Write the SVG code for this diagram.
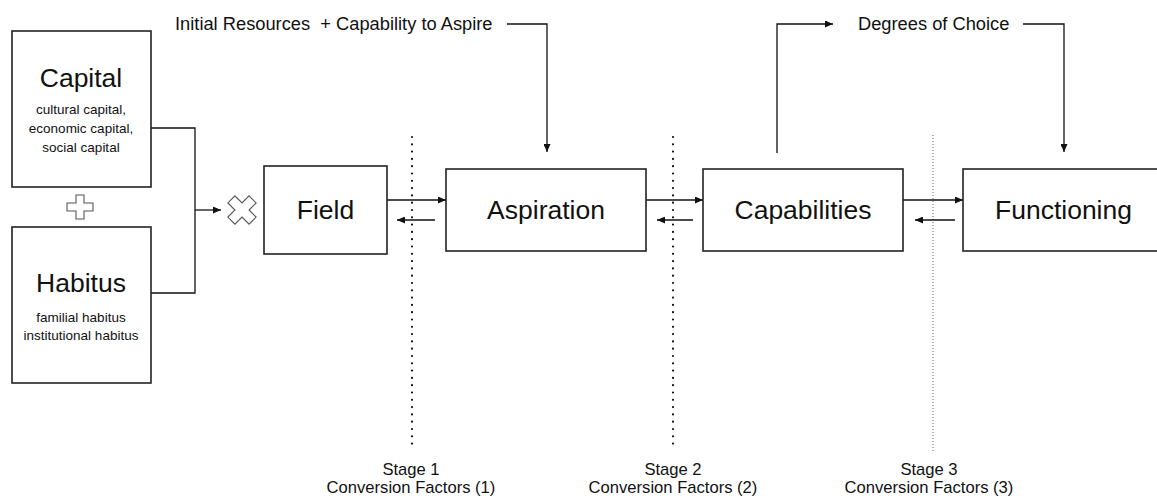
<svg xmlns="http://www.w3.org/2000/svg" width="1157" height="503" viewBox="0 0 1157 503">
  <defs>
    <style>
      text { font-family: "Liberation Sans", Arial, Helvetica, sans-serif; fill: #111; }
      .box { fill: #fff; stroke: #222; stroke-width: 1.6; }
      .title { font-size: 26.5px; text-anchor: middle; }
      .sub { font-size: 13.5px; text-anchor: middle; }
      .label { font-size: 16.6px; text-anchor: middle; }
      .toplabel { font-size: 18.3px; }
      .conn { fill: none; stroke: #111; stroke-width: 1.3; }
      .arrow { fill: none; stroke: #111; stroke-width: 1.3; marker-end: url(#head); }
      .dots { fill: none; stroke: #111; stroke-width: 2.2; stroke-linecap: round; stroke-dasharray: 0 7.3; }
      .fine { fill: none; stroke: #777; stroke-width: 1.2; stroke-dasharray: 1 2; }
      .icon { fill: #fff; stroke: #555; stroke-width: 1.1; }
    </style>
    <marker id="head" markerWidth="8" markerHeight="7" refX="8" refY="3.5" orient="auto" markerUnits="userSpaceOnUse">
      <path d="M0,0 L8,3.5 L0,7 Z" fill="#111"/>
    </marker>
  </defs>

  <!-- stage dividers -->
  <g id="dividers">
    <line class="dots" x1="412" y1="137" x2="412" y2="447"/>
    <line class="dots" x1="673" y1="137" x2="673" y2="447"/>
    <line class="fine" x1="933" y1="135" x2="933" y2="453"/>
  </g>

  <!-- connectors -->
  <g id="connectors">
    <polyline class="conn" points="151,128 195,128 195,293 151,293"/>
    <line class="arrow" x1="195" y1="210" x2="221" y2="210"/>
    <line class="arrow" x1="387" y1="200" x2="446" y2="200"/>
    <line class="arrow" x1="435" y1="220" x2="397" y2="220"/>
    <line class="arrow" x1="646" y1="200" x2="703" y2="200"/>
    <line class="arrow" x1="693" y1="220" x2="657" y2="220"/>
    <line class="arrow" x1="903" y1="200" x2="963" y2="200"/>
    <line class="arrow" x1="955" y1="220" x2="915" y2="220"/>
    <polyline class="arrow" points="507,24 547,24 547,152"/>
    <polyline class="arrow" points="777,153 777,24 833,24"/>
    <polyline class="arrow" points="1023,24 1064,24 1064,152"/>
  </g>

  <!-- capital -->
  <g id="capital">
    <rect class="box" x="12" y="31" width="139" height="156"/>
    <text class="title" x="81" y="87">Capital</text>
    <text class="sub" x="81" y="114">cultural capital,</text>
    <text class="sub" x="81" y="133">economic capital,</text>
    <text class="sub" x="81" y="152">social capital</text>
  </g>

  <!-- plus sign between capital and habitus -->
  <g id="plus">
    <path class="icon" d="M76,195 H84 V203 H93 V211 H84 V219 H76 V211 H67 V203 H76 Z"/>
  </g>

  <!-- habitus -->
  <g id="habitus">
    <rect class="box" x="12" y="227" width="139" height="156"/>
    <text class="title" x="81" y="292">Habitus</text>
    <text class="sub" x="81" y="322">familial habitus</text>
    <text class="sub" x="81" y="340">institutional habitus</text>
  </g>

  <!-- combination mark -->
  <g id="combine">
    <path class="icon" transform="translate(242 210) rotate(45)" d="M-5,-15 H5 V-5 H15 V5 H5 V15 H-5 V5 H-15 V-5 H-5 Z"/>
  </g>

  <g id="field">
    <rect class="box" x="264" y="166" width="123" height="88"/>
    <text class="title" x="325.5" y="219">Field</text>
  </g>

  <g id="aspiration">
    <rect class="box" x="446" y="169" width="200" height="82"/>
    <text class="title" x="546" y="219">Aspiration</text>
  </g>

  <g id="capabilities">
    <rect class="box" x="703" y="169" width="200" height="82"/>
    <text class="title" x="803" y="219">Capabilities</text>
  </g>

  <g id="functioning">
    <rect class="box" x="963" y="169" width="210" height="82"/>
    <text class="title" x="1063.5" y="219">Functioning</text>
  </g>

  <!-- top annotations -->
  <g id="annotations">
    <text class="toplabel" x="175" y="30" xml:space="preserve">Initial Resources  + Capability to Aspire</text>
    <text class="toplabel" x="858" y="30">Degrees of Choice</text>
  </g>

  <!-- stage labels -->
  <g id="stages">
    <text class="label" x="411" y="475">Stage 1</text>
    <text class="label" x="411" y="493">Conversion Factors (1)</text>
    <text class="label" x="673" y="475">Stage 2</text>
    <text class="label" x="673" y="493">Conversion Factors (2)</text>
    <text class="label" x="929" y="475">Stage 3</text>
    <text class="label" x="929" y="493">Conversion Factors (3)</text>
  </g>
</svg>
